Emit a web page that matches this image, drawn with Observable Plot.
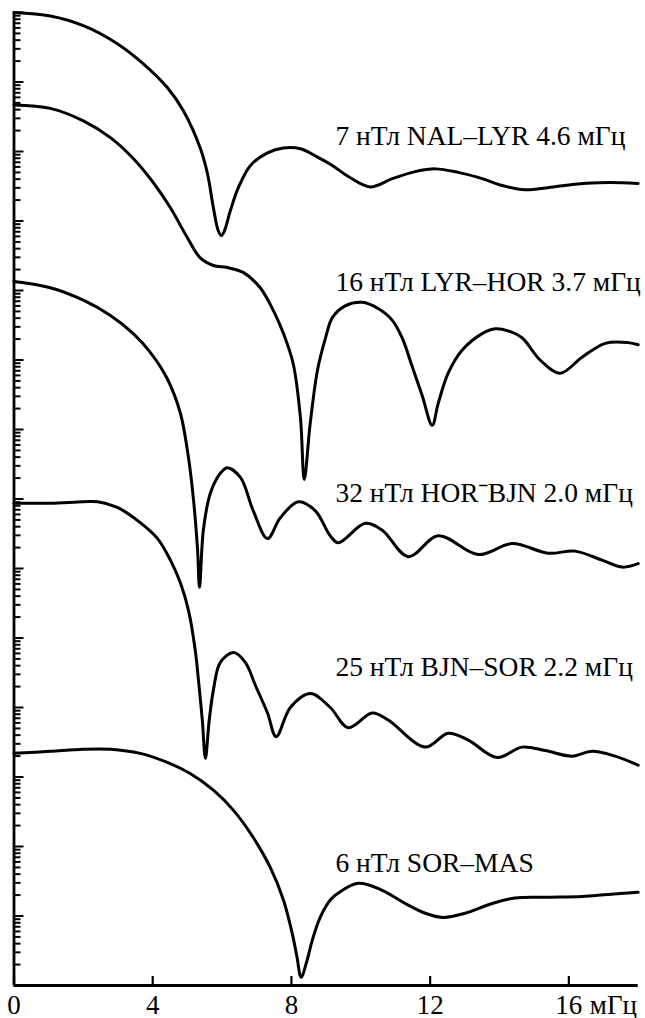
<!DOCTYPE html>
<html>
<head>
<meta charset="utf-8">
<script src="https://cdn.jsdelivr.net/npm/d3@7"></script>
<script src="https://cdn.jsdelivr.net/npm/@observablehq/plot@0.6"></script>
<style>
  html, body { margin: 0; padding: 0; background: #fff; }
  #chart svg { display: block; }
</style>
</head>
<body>
<div id="chart"></div>
<script>
// ---- data (frequency in mHz, amplitude as log10 in decades on the unlabeled log axis) ----
const xTicks = [0, 4, 8, 12, 16];
const xUnit = "мГц";

const seriesNames = ["NAL–LYR", "LYR–HOR", "HORˉBJN", "BJN–SOR", "SOR–MAS"];
const labelTexts = [
  "7 нТл NAL–LYR 4.6 мГц",
  "16 нТл LYR–HOR 3.7 мГц",
  "32 нТл HORˉBJN 2.0 мГц",
  "25 нТл BJN–SOR 2.2 мГц",
  "6 нТл SOR–MAS"
];
const labelFreq = [9.27, 9.27, 9.27, 9.27, 9.27];
const labelLg = [12.10, 10.00, 6.96, 4.45, 1.63];

const f1 = [0, 1.05, 2.0, 2.98, 3.73, 4.42, 4.88, 5.37, 5.58, 5.75, 5.89, 5.98, 6.07, 6.24, 6.47, 6.82, 7.31, 7.77, 8.26, 8.75, 9.18, 9.64, 10.27, 10.91, 11.57, 12.15, 12.81, 13.50, 14.08, 14.74, 15.40, 16.18, 16.85, 17.54, 18.0];
const lg1 = [14.0, 13.95, 13.81, 13.55, 13.26, 12.92, 12.59, 12.05, 11.68, 11.19, 10.86, 10.79, 10.86, 11.15, 11.48, 11.80, 11.98, 12.05, 12.04, 11.92, 11.80, 11.64, 11.49, 11.61, 11.71, 11.75, 11.70, 11.61, 11.51, 11.45, 11.48, 11.53, 11.55, 11.55, 11.54];

const f2 = [0, 1.05, 2.0, 2.78, 3.44, 4.02, 4.51, 5.0, 5.37, 5.75, 6.15, 6.61, 7.10, 7.48, 7.77, 8.05, 8.26, 8.37, 8.54, 8.75, 8.98, 9.18, 9.55, 10.04, 10.50, 10.91, 11.20, 11.48, 11.77, 12.06, 12.23, 12.52, 12.92, 13.50, 13.88, 14.25, 14.65, 15.17, 15.75, 16.38, 17.05, 17.71, 18.0];
const lg2 = [12.67, 12.62, 12.44, 12.20, 11.90, 11.55, 11.19, 10.76, 10.47, 10.36, 10.33, 10.26, 10.04, 9.71, 9.38, 8.95, 8.17, 7.28, 8.08, 8.85, 9.31, 9.61, 9.78, 9.83, 9.74, 9.57, 9.31, 8.91, 8.49, 8.06, 8.37, 8.81, 9.14, 9.38, 9.45, 9.42, 9.32, 9.00, 8.81, 9.04, 9.24, 9.25, 9.22];

const f3 = [0, 1.05, 2.0, 2.78, 3.44, 3.93, 4.42, 4.80, 5.03, 5.17, 5.29, 5.35, 5.46, 5.66, 5.95, 6.15, 6.53, 6.90, 7.31, 7.68, 8.20, 8.69, 9.12, 9.35, 10.13, 10.62, 11.37, 12.23, 13.39, 14.37, 15.40, 16.18, 16.96, 17.54, 18.0];
const lg3 = [10.13, 10.04, 9.86, 9.64, 9.38, 9.11, 8.73, 8.23, 7.60, 7.02, 6.30, 5.73, 6.55, 7.08, 7.37, 7.45, 7.31, 6.83, 6.43, 6.73, 6.96, 6.83, 6.47, 6.37, 6.65, 6.55, 6.17, 6.47, 6.20, 6.36, 6.22, 6.25, 6.12, 6.02, 6.07];

const f4 = [0, 1.05, 2.0, 2.41, 2.98, 3.64, 4.14, 4.51, 4.80, 5.03, 5.23, 5.32, 5.43, 5.52, 5.63, 5.75, 5.95, 6.33, 6.67, 6.96, 7.31, 7.56, 7.97, 8.55, 9.12, 9.64, 10.33, 10.79, 11.86, 12.52, 13.10, 13.93, 14.65, 15.32, 16.09, 16.67, 17.33, 18.0];
const lg4 = [6.94, 6.94, 6.96, 6.96, 6.88, 6.66, 6.43, 6.12, 5.79, 5.40, 4.81, 4.39, 3.82, 3.27, 3.82, 4.25, 4.65, 4.79, 4.65, 4.32, 3.92, 3.58, 4.00, 4.20, 4.00, 3.71, 3.92, 3.82, 3.43, 3.63, 3.53, 3.28, 3.43, 3.38, 3.30, 3.37, 3.30, 3.17];

const f5 = [0, 1.05, 2.0, 2.78, 3.64, 4.42, 5.08, 5.75, 6.33, 6.90, 7.39, 7.77, 8.05, 8.16, 8.28, 8.45, 8.60, 8.83, 9.12, 9.35, 9.93, 10.62, 11.28, 11.86, 12.38, 13.01, 13.79, 14.45, 15.40, 16.38, 17.13, 18.0];
const lg5 = [3.34, 3.37, 3.40, 3.40, 3.34, 3.21, 3.05, 2.81, 2.52, 2.13, 1.70, 1.23, 0.69, 0.41, 0.12, 0.36, 0.65, 0.98, 1.23, 1.33, 1.47, 1.37, 1.18, 1.04, 0.98, 1.04, 1.18, 1.26, 1.27, 1.28, 1.31, 1.34];

// ---- build tables ----
const freqs = [f1, f2, f3, f4, f5];
const lgs = [lg1, lg2, lg3, lg4, lg5];
const rows = seriesNames.flatMap((name, s) =>
  freqs[s].map((f, i) => ({name, f, v: Math.pow(10, lgs[s][i])}))
);
const labelRows = labelTexts.map((t, i) => ({t, f: labelFreq[i], v: Math.pow(10, labelLg[i])}));
const unitRows = [{t: xUnit, f: xTicks[xTicks.length - 1]}];

const decades = d3.range(0, 15).map(k => Math.pow(10, k));
const minors = d3.range(0, 14).flatMap(k => d3.range(2, 10).map(m => m * Math.pow(10, k)));

const serif = "'Liberation Serif', 'Times New Roman', Times, serif";

const chart = Plot.plot({
  width: 645,
  height: 1018,
  marginTop: 12,
  marginBottom: 33,
  marginLeft: 13.5,
  marginRight: 7.3,
  style: {fontFamily: serif, fontSize: "27px", color: "#000", background: "#fff", overflow: "visible"},
  x: {domain: [0, 18]},
  y: {type: "log", domain: [1, 1e14]},
  marks: [
    Plot.axisY(minors, {tickSize: -7, tickFormat: () => "", strokeWidth: 2, label: null}),
    Plot.axisY(decades, {tickSize: -10, tickFormat: () => "", strokeWidth: 2, label: null}),
    Plot.axisX(xTicks, {tickSize: -9, tickFormat: () => "", strokeWidth: 2.2, label: null}),
    Plot.axisX(xTicks, {tickSize: 0, tickPadding: 9, fontSize: 27, fontFamily: serif, label: null}),
    Plot.text(unitRows, {x: "f", text: "t", frameAnchor: "bottom", dx: 21, dy: 9, textAnchor: "start", lineAnchor: "top", fontSize: 27, fontFamily: serif, fill: "#000"}),
    Plot.ruleX([0], {strokeWidth: 2.8, stroke: "#000"}),
    Plot.ruleY([1], {strokeWidth: 2.8, stroke: "#000"}),
    Plot.line(rows, {x: "f", y: "v", z: "name", curve: "catmull-rom", stroke: "#000", strokeWidth: 3}),
    Plot.text(labelRows, {x: "f", y: "v", text: "t", textAnchor: "start", lineAnchor: "bottom", fontSize: 27.5, fontFamily: serif, fill: "#000"})
  ]
});
document.getElementById("chart").appendChild(chart);
</script>
</body>
</html>
